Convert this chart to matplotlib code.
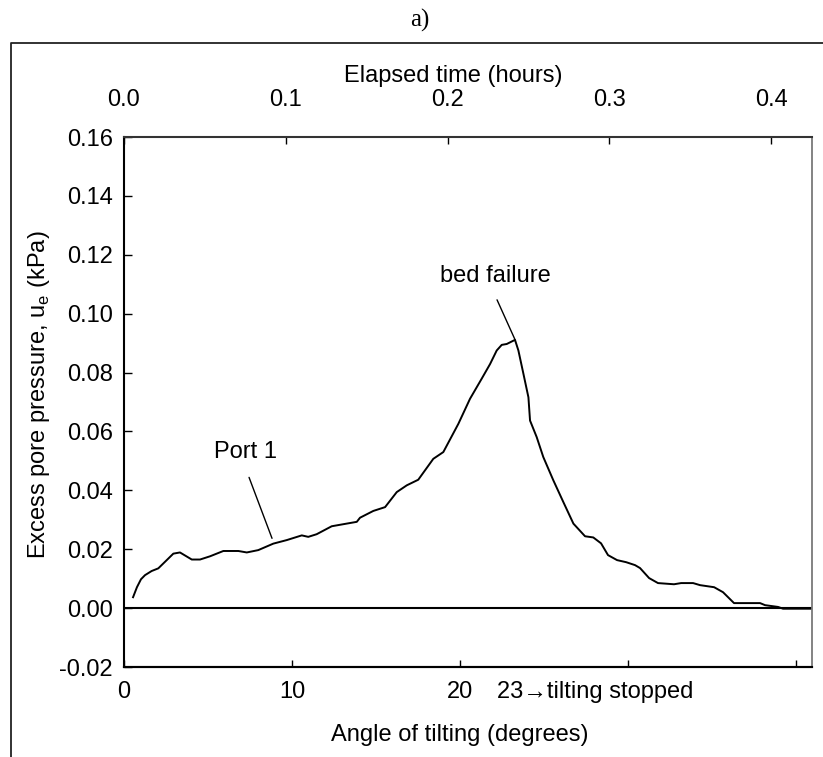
import matplotlib
matplotlib.use("Agg")
import matplotlib.pyplot as plt
from matplotlib.lines import Line2D
from matplotlib.ticker import FixedLocator, FuncFormatter

# dati (tempo in ore, pressione in kPa)
time_h = [0.0056, 0.0080, 0.0105, 0.0130, 0.0171, 0.0212, 0.0253, 0.0305, 0.0346, 0.0419,
          0.0470, 0.0532, 0.0614, 0.0707, 0.0759, 0.0830, 0.0923, 0.1006, 0.1099, 0.1139,
          0.1191, 0.1284, 0.1356, 0.1439, 0.1459, 0.1541, 0.1614, 0.1686, 0.1748, 0.1819,
          0.1912, 0.1974, 0.2067, 0.2139, 0.2211, 0.2263, 0.2304, 0.2335, 0.2366, 0.2417,
          0.2438, 0.2469, 0.2500, 0.2510, 0.2551, 0.2592, 0.2654, 0.2716, 0.2778, 0.2850,
          0.2901, 0.2949, 0.2992, 0.3048, 0.3104, 0.3159, 0.3190, 0.3246, 0.3301, 0.3400,
          0.3444, 0.3518, 0.3561, 0.3648, 0.3703, 0.3771, 0.3932, 0.3963, 0.4043, 0.4074,
          0.4253]
pressure = [0.0037, 0.0071, 0.0098, 0.0112, 0.0126, 0.0135, 0.0157, 0.0185, 0.0189, 0.0165,
            0.0165, 0.0176, 0.0194, 0.0194, 0.0189, 0.0197, 0.0219, 0.0231, 0.0247, 0.0242,
            0.0251, 0.0278, 0.0285, 0.0293, 0.0307, 0.0330, 0.0343, 0.0394, 0.0417, 0.0436,
            0.0507, 0.0530, 0.0626, 0.0711, 0.0779, 0.0829, 0.0875, 0.0894, 0.0897, 0.0911,
            0.0875, 0.0796, 0.0716, 0.0637, 0.0581, 0.0513, 0.0434, 0.0360, 0.0287, 0.0244,
            0.0240, 0.0220, 0.0180, 0.0163, 0.0156, 0.0146, 0.0136, 0.0102, 0.0085, 0.0081,
            0.0085, 0.0085, 0.0078, 0.0071, 0.0054, 0.0017, 0.0017, 0.0010, 0.0004, -0.0002,
            -0.0002]

time_ticks = [0.0, 0.1, 0.2, 0.3, 0.4]
angle_ticks = [0, 10, 20, 30, 40]
angle_labels = ["0", "10", "20", "", ""]
y_ticks = [-0.02, 0.0, 0.02, 0.04, 0.06, 0.08, 0.10, 0.12, 0.14, 0.16]

DEG_PER_HOUR = 96.3
ANGLE_STOP = 23

plt.rcParams["font.family"] = ["Liberation Sans", "DejaVu Sans"]
plt.rcParams["font.size"] = 17
plt.rcParams["axes.unicode_minus"] = False

W, H = 823, 757
fig = plt.figure(figsize=(W / 100, H / 100), dpi=100)
ax = fig.add_axes([124 / W, 1 - 667 / H, 688 / W, 530 / H])


def h2deg(t):
    return t * DEG_PER_HOUR


def deg2h(a):
    return a / DEG_PER_HOUR


# curva principale
ax.plot(time_h, pressure, color="black", lw=1.4, solid_joinstyle="round")
ax.axhline(0, color="black", lw=1.5)

ax.set_xlim(0, 0.4253)
ax.set_ylim(-0.02, 0.16)

# asse superiore: tempo
ax.xaxis.tick_top()
ax.xaxis.set_major_locator(FixedLocator(time_ticks))
ax.xaxis.set_major_formatter(FuncFormatter(lambda v, p: f"{v:.1f}"))
ax.tick_params(axis="x", direction="in", length=5, width=1, pad=19, colors="black")

ax.yaxis.set_major_locator(FixedLocator(y_ticks))
ax.yaxis.set_major_formatter(FuncFormatter(lambda v, p: f"{v:.2f}"))
ax.tick_params(axis="y", direction="in", length=6, width=1, pad=8)

# asse inferiore: angolo
secax = ax.secondary_xaxis("bottom", functions=(h2deg, deg2h))
secax.xaxis.set_major_locator(FixedLocator(angle_ticks))
secax.set_xticklabels(angle_labels)
secax.tick_params(direction="in", length=5, width=1, pad=10)
secax.spines["bottom"].set_linewidth(1.5)

for side in ["left", "bottom"]:
    ax.spines[side].set_linewidth(1.5)
    ax.spines[side].set_color("black")
ax.spines["top"].set_linewidth(1.5)
ax.spines["top"].set_color("#333333")
ax.spines["right"].set_linewidth(1.3)
ax.spines["right"].set_color("#7a7a7a")

# etichetta "23 -> tilting stopped" sotto l'asse
ax.text(deg2h(ANGLE_STOP - 0.8), -0.02 - 14 / 2950, "23\u2192tilting stopped",
        ha="left", va="top")

# annotazioni
ax.text(0.0748, 0.0529, "Port 1", ha="center", va="center")
ax.annotate("", xy=(0.0915, 0.0237), xytext=(0.0773, 0.0444),
            arrowprops=dict(arrowstyle="-", color="black", lw=1.0,
                            shrinkA=0, shrinkB=0))
ax.text(0.2294, 0.1129, "bed failure", ha="center", va="center")
ax.annotate("", xy=(0.2417, 0.0912), xytext=(0.2306, 0.1047),
            arrowprops=dict(arrowstyle="-", color="black", lw=1.0,
                            shrinkA=0, shrinkB=0))

# titoli degli assi
fig.text(453 / W, 1 - 76 / H, "Elapsed time (hours)", ha="center", va="center")
fig.text(460 / W, 1 - 735 / H, "Angle of tilting (degrees)", ha="center", va="center")
fig.text(39 / W, 1 - 395 / H, "Excess pore pressure, u$_\\mathregular{e}$ (kPa)",
         rotation=90, ha="center", va="center")
fig.text(420 / W, 1 - 20 / H, "a)", ha="center", va="center",
         family="Liberation Serif", fontsize=18)

# cornice esterna (tagliata a destra e in basso)
fx = 11 / W
fy = 1 - 42.7 / H
fig.add_artist(Line2D([fx, fx, 1.01], [-0.01, fy, fy], transform=fig.transFigure,
                      color="#222222", lw=1.3))

fig.savefig("out.png", dpi=100)
